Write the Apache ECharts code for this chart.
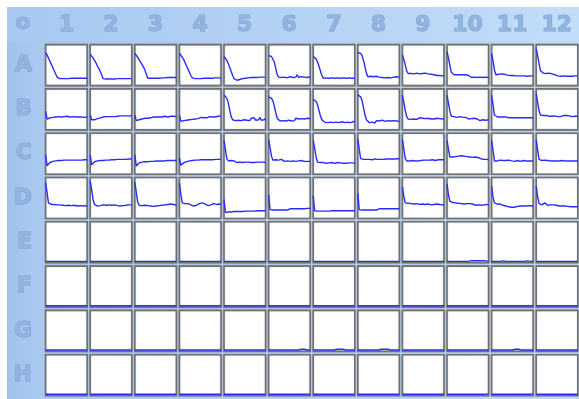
<!DOCTYPE html>
<html>
<head>
<meta charset="utf-8">
<script src="https://cdn.jsdelivr.net/npm/echarts@6/dist/echarts.min.js"></script>
<style>
html,body{margin:0;padding:0;background:#fff;}
#wrap{position:relative;width:579px;height:399px;overflow:hidden;background:#fff;}
#bgTop{position:absolute;left:7px;top:7px;width:572px;height:392px;background:linear-gradient(to right,#a8c8f0 0%,#b3d1f4 45%,#c2ddf9 100%);}
#bgLeft{position:absolute;left:7px;top:43px;width:37px;height:356px;background:linear-gradient(to right,#a2c2ec 0%,#abcaf0 100%);}
#chart{position:absolute;left:0;top:0;width:579px;height:399px;}
</style>
</head>
<body>
<div id="wrap"><div id="bgTop"></div><div id="bgLeft"></div><div id="chart"></div></div>
<script>
const colLabels = ['1','2','3','4','5','6','7','8','9','10','11','12'];
const rowLabels = ['A','B','C','D','E','F','G','H'];
const cornerLabel = 'o';

const rowA = [
  [80,74,66,58,50,42,34,26,18,14,14,14,14,14,14,14,14,14,15,15,15,15,15,15,15,15,15,15,15,15],
  [76,72,66,60,54,46,40,32,24,14,13,13,13,13,13,13,13,13,13,14,14,14,14,14,14,14,14,14,14,14],
  [78,74,68,62,56,50,44,36,26,15,15,15,15,15,15,15,15,15,16,16,16,16,16,17,17,17,17,17,17,17],
  [78,74,68,62,54,46,38,30,22,16,14,14,14,14,14,14,15,15,15,15,15,15,15,15,16,16,16,16,16,16],
  [70,66,60,52,42,32,22,14,10,10,11,12,13,14,15,15,16,16,16,17,17,17,17,17,17,18,18,18,18,18],
  [72,71,70,66,56,40,24,18,20,17,21,18,22,16,20,19,23,17,21,18,24,17,20,19,22,18,21,17,20,19],
  [70,68,64,56,46,34,22,15,13,16,12,15,13,16,12,15,14,16,12,15,13,16,12,15,14,16,13,15,12,15],
  [80,80,78,72,60,44,28,19,17,20,16,19,17,20,16,18,20,17,19,16,20,17,19,16,20,18,17,19,16,18],
  [74,62,48,34,27,25,27,24,26,25,28,24,26,23,27,25,28,24,26,23,25,22,24,23,22,24,22,23,21,22],
  [83,66,48,30,25,24,24,24,24,24,24,24,24,24,23,22,18,17,16,18,15,17,16,18,15,17,16,18,16,17],
  [78,58,36,24,22,25,23,26,22,25,27,23,25,22,23,22,22,21,21,21,21,21,21,21,20,20,20,21,20,21],
  [90,72,52,34,30,28,32,27,31,28,30,26,29,24,22,21,20,20,20,21,20,20,21,20,21,20,21,21,20,21]
];
const rowB = [
  [44,24,26,27,25,28,26,29,27,30,28,29,27,30,28,31,28,29,27,30,28,29,28,29,28,29,28,28,28,29],
  [34,22,21,22,24,25,26,27,28,29,29,30,29,30,31,30,31,30,31,31,31,32,31,32,31,32,32,32,32,32],
  [34,20,21,22,23,24,25,26,27,26,28,27,28,29,28,29,30,29,30,29,30,31,30,29,30,31,30,31,30,30],
  [34,18,22,20,24,21,25,22,26,23,25,24,27,25,26,28,26,27,29,27,28,30,28,29,31,29,30,31,30,32],
  [85,82,76,64,46,30,22,24,20,25,21,26,20,25,22,27,21,25,20,26,22,27,21,25,22,28,21,26,22,25],
  [80,79,76,70,56,40,26,22,19,24,20,25,19,23,21,25,19,24,20,26,21,24,19,25,22,24,20,26,21,25],
  [74,72,68,60,46,32,22,18,16,19,15,18,16,20,15,18,16,19,15,18,17,20,15,18,16,19,15,18,17,19],
  [85,84,80,70,52,34,22,18,15,20,16,19,14,20,16,19,15,21,16,18,14,20,16,19,15,20,17,19,15,18],
  [84,66,46,30,24,26,23,27,24,26,23,25,27,24,26,23,25,24,26,25,24,26,24,25,26,24,25,26,24,25],
  [84,64,44,31,29,30,29,28,29,30,29,28,29,28,26,24,23,25,22,26,21,24,23,20,25,22,24,21,23,22],
  [84,60,34,30,29,30,29,28,29,28,29,28,27,28,27,28,27,28,27,27,27,28,27,27,27,27,27,28,27,27],
  [88,66,44,34,32,33,31,33,32,31,30,31,30,32,31,30,29,30,31,33,34,33,34,32,31,30,30,31,32,31]
];
const rowC = [
  [46,18,22,26,28,29,30,30,31,31,31,31,32,32,32,32,32,32,32,32,32,32,32,32,33,32,33,33,33,33],
  [45,20,24,28,29,30,30,31,31,31,32,32,32,32,33,33,33,33,33,34,34,34,34,34,34,34,35,35,35,35],
  [46,17,22,25,26,27,27,28,28,28,29,29,29,29,29,30,30,30,30,30,30,30,31,31,31,31,31,31,31,31],
  [38,19,22,25,27,28,29,30,30,31,31,32,31,32,32,33,32,33,33,33,34,33,34,33,34,34,34,34,34,34],
  [82,58,36,30,28,31,27,30,28,26,29,27,28,26,28,27,26,27,28,26,27,26,27,27,26,27,26,27,27,26],
  [84,64,42,32,30,33,29,32,30,34,31,29,32,30,33,29,31,30,32,29,31,30,29,31,30,29,30,29,30,29],
  [82,62,40,27,25,26,24,26,25,24,26,25,24,26,25,24,25,26,24,25,26,24,25,24,26,25,24,25,26,25],
  [85,60,36,33,34,33,34,33,34,34,33,34,35,34,34,35,34,35,34,35,35,35,35,35,35,36,35,35,36,35],
  [84,60,36,30,29,30,29,31,30,30,31,30,32,31,30,32,31,32,31,32,32,33,32,31,32,33,32,33,32,33],
  [82,60,40,38,40,38,41,39,42,40,43,41,42,40,41,43,40,42,39,41,40,39,38,36,35,34,34,33,34,33],
  [82,56,30,28,30,29,32,35,31,29,31,30,32,29,30,31,29,30,31,30,29,30,31,30,30,29,30,30,30,30],
  [84,58,34,30,31,29,32,30,31,29,30,31,30,31,30,29,30,30,31,30,30,30,30,30,30,30,30,30,30,30]
];
const rowD = [
  [88,62,36,32,32,31,32,31,31,30,31,29,30,28,29,27,30,26,29,27,30,26,28,27,29,26,28,27,29,27],
  [90,70,44,32,30,28,30,29,30,31,29,30,28,31,29,30,28,31,30,29,31,28,30,29,31,30,29,31,30,31],
  [88,64,38,30,30,29,28,30,27,29,26,28,25,27,26,28,27,29,28,30,29,31,30,32,31,33,30,32,29,30],
  [86,58,36,34,34,33,34,33,31,29,28,28,30,32,34,36,36,35,33,31,29,29,31,33,34,33,32,33,33,32],
  [44,12,12,13,13,13,13,14,14,14,14,14,14,14,15,15,15,15,15,15,15,15,15,16,16,16,16,16,16,16],
  [56,19,18,18,18,18,18,18,18,18,18,18,18,18,21,21,21,21,21,21,21,21,21,21,21,21,21,22,22,22],
  [54,16,15,15,15,15,15,15,15,15,15,15,16,16,16,16,16,16,16,16,16,16,16,16,16,16,16,16,16,16],
  [60,19,18,18,18,18,18,18,18,18,18,18,18,18,18,21,21,21,21,21,21,21,21,21,21,21,21,21,21,21],
  [76,52,36,33,35,31,34,30,33,29,34,30,32,29,33,30,32,29,33,30,31,29,32,30,33,29,32,30,31,30],
  [84,56,40,38,37,39,36,38,35,37,34,36,33,35,34,32,34,31,33,32,30,33,31,32,30,32,31,30,32,31],
  [78,50,36,34,33,32,33,31,30,29,28,27,26,25,25,26,25,26,27,28,28,29,28,29,28,28,29,28,28,28],
  [78,52,34,32,31,33,36,33,30,32,31,30,31,29,30,29,28,29,28,27,28,27,27,27,26,27,26,27,26,26]
];
const rowE = [
  [0,0,0,0,0,0,0,0,0,0,0,0,0,0,0],
  [0,0,0,0,0,0,0,0,0,0,0,0,0,0,0],
  [0,0,0,0,0,0,0,0,0,0,0,0,0,0,0],
  [0,0,0,0,0,0,0,0,0,0,0,0,0,0,0],
  [0,0,0,0,0,0,0,0,0,0,0,0,0,0,0],
  [0,0,0,0,0,0,0,0,0,0,0,0,0,0,0],
  [0,0,0,0,0,0,0,0,0,0,0,0,0,0,0],
  [0,0,0,0,0,0,0,0,0,0,0,0,0,0,0],
  [0,0,0,0,0,0,0,0,0,0,0,0,0,0,0],
  [0,0,0,0,0,0,0,0,1.5,1.5,1.5,1.5,1.5,1.5,0],
  [0,0,0,0,1.5,0,0,0,0,0,0,0,1.5,0,0],
  [0,0,0,0,0,0,0,0,0,0,0,0,0,0,0]
];
const rowF = [
  [0,0,0,0,0,0,0,0,0,0,0,0,0,0,0],
  [0,0,0,0,0,0,0,0,0,0,0,0,0,0,0],
  [0,0,0,0,0,0,0,0,0,0,0,0,0,0,0],
  [0,0,0,0,0,0,0,0,0,0,0,0,0,0,0],
  [0,0,0,0,0,0,0,0,0,0,0,0,0,0,0],
  [0,0,0,0,0,0,0,0,0,0,0,0,0,0,0],
  [0,0,0,0,0,0,0,0,0,0,0,0,0,0,0],
  [0,0,0,0,0,0,0,0,0,0,0,0,0,0,0],
  [0,0,0,0,0,0,0,0,0,0,0,0,0,0,0],
  [0,0,0,0,0,0,0,0,0,0,0,0,0,0,0],
  [0,0,0,0,0,0,0,0,0,0,0,0,0,0,0],
  [0,0,0,0,0,0,0,0,0,0,0,0,0,0,0]
];
const rowG = [
  [0,0,0,0,0,0,0,0,0,0,0,0,0,0,0],
  [0,0,0,0,0,0,0,0,0,0,0,0,0,0,0],
  [0,0,0,0,0,0,0,0,0,0,0,0,0,0,0],
  [0,0,0,0,0,0,0,0,0,0,0,0,0,0,0],
  [0,0,0,0,0,0,0,0,0,0,0,0,0,0,0],
  [0,0,0,0,0,0,0,0,0,0,0,2,2,0,0],
  [0,0,0,0,0,0,0,0,2,2,2,0,0,0,0],
  [0,0,0,0,0,0,0,0,2,2,2,0,0,0,0],
  [0,0,0,0,0,0,0,0,0,0,0,0,0,0,0],
  [0,0,0,0,0,0,0,0,0,0,0,0,0,0,0],
  [0,0,0,0,0,0,0,0,2,2,0,0,0,0,0],
  [0,0,0,0,0,0,0,0,0,0,0,0,0,0,0]
];
const rowH = [
  [0,0,0,0,0,0,0,0,0,0,0,0,0,0,0],
  [0,0,0,0,0,0,0,0,0,0,0,0,0,0,0],
  [0,0,0,0,0,0,0,0,0,0,0,0,0,0,0],
  [0,0,0,0,0,0,0,0,0,0,0,0,0,0,0],
  [0,0,0,0,0,0,0,0,0,0,0,0,0,0,0],
  [0,0,0,0,0,0,0,0,0,0,0,0,0,0,0],
  [0,0,0,0,0,0,0,0,0,0,0,0,0,0,0],
  [0,0,0,0,0,0,0,0,0,0,0,0,0,0,0],
  [0,0,0,0,0,0,0,0,0,0,0,0,0,0,0],
  [0,0,0,0,0,0,0,0,0,0,0,0,0,0,1.5],
  [0,0,0,0,0,0,0,0,0,0,0,0,0,0,1.5],
  [0,0,0,0,0,0,0,0,0,0,0,0,0,0,0]
];

const rows = [rowA,rowB,rowC,rowD,rowE,rowF,rowG,rowH];

const X0 = 44, Y0 = 43, PX = 44.6, PY = 44.3;
const grids = [], xAxes = [], yAxes = [], series = [];
rows.forEach((row, r) => {
  row.forEach((vals, c) => {
    const idx = grids.length;
    grids.push({
      left: X0 + c * PX + 1.6, top: Y0 + r * PY + 1.6, width: 41.6, height: 41.0,
      show: true, backgroundColor: '#ffffff', borderColor: '#707070', borderWidth: 1.6,
      shadowColor: 'rgba(150,150,150,0.5)', shadowBlur: 1.5
    });
    xAxes.push({gridIndex: idx, type: 'category', boundaryGap: false, data: vals.map((v, i) => i), show: false});
    yAxes.push({gridIndex: idx, type: 'value', min: -3.5, max: 100, show: false});
    series.push({
      type: 'line', xAxisIndex: idx, yAxisIndex: idx, data: vals, z: 5,
      symbol: 'none', showSymbol: false, silent: true, clip: false,
      lineStyle: {color: '#2a2aff', width: 1.4}
    });
  });
});

const labelStyle = {
  fontSize: 22, fontWeight: 'bold', fontFamily: 'DejaVu Sans',
  color: '#92b4e0', textBorderColor: '#7f9fcd', textBorderWidth: 1
};
const li = grids.length;
grids.push({left: X0, top: Y0, width: 535, height: 354.4, show: false});
xAxes.push({gridIndex: li, type: 'category', data: colLabels, position: 'top',
  axisLine: {show: false}, axisTick: {show: false}, splitLine: {show: false},
  axisLabel: Object.assign({margin: 7, interval: 0}, labelStyle)});
yAxes.push({gridIndex: li, type: 'category', data: rowLabels, inverse: true,
  axisLine: {show: false}, axisTick: {show: false}, splitLine: {show: false},
  axisLabel: Object.assign({margin: 12, interval: 0, padding: [4, 0, 0, 0]}, labelStyle)});

const chart = echarts.init(document.getElementById('chart'), null, {renderer: 'canvas'});
chart.setOption({
  backgroundColor: 'transparent',
  animation: false,
  grid: grids, xAxis: xAxes, yAxis: yAxes, series: series,
  graphic: [{
    type: 'text', left: 15, top: 12,
    style: {text: cornerLabel, font: 'bold 22px "DejaVu Sans"', fill: '#92b4e0', stroke: '#7f9fcd', lineWidth: 1}
  }]
});
</script>
</body>
</html>
